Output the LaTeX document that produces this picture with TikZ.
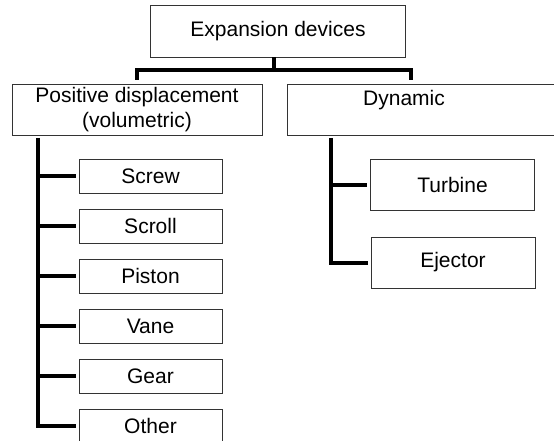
\documentclass[tikz,border=0pt]{standalone}
\usepackage{fontspec}
\setmainfont{Liberation Sans}

\begin{document}
\begin{tikzpicture}[x=1pt,y=-1pt]
        \tikzstyle{every node}=[draw=black!80,rectangle,line width=0.9pt,inner sep=2pt,font=\fontsize{21}{25}\selectfont]
        \tikzstyle{head}=[minimum width=255pt,minimum height=52pt]
        \tikzstyle{group}=[minimum height=51pt]
        \tikzstyle{kind}=[minimum width=143pt,minimum height=34pt]
        \tikzstyle{dynkind}=[minimum width=164pt,minimum height=51pt]
        \tikzstyle{trunk}=[line width=4pt]
        \tikzstyle{branch}=[line width=3.2pt,shorten >=3pt]
        \useasboundingbox (0,0) rectangle (554,441);
        \node[head] (devices) at (278,31) {Expansion devices};
        \node[group,minimum width=250pt,align=center] (positive) at (137,109.5) {Positive displacement\\(volumetric)};
        \node[group,minimum width=272pt,text depth=24pt] (dynamic) at (423,109.5) {Dynamic\hspace{38pt}\mbox{}};
        \foreach \name [count=\i] in {Screw,Scroll,Piston,Vane,Gear,Other}
            \node[kind] (\name) at (150.5,126+50*\i) {\name};
        \node[dynkind] (Turbine) at (452.5,185) {Turbine};
        \node[dynkind] (Ejector) at (453,262.5) {Ejector};
        % split under the top box
        \coordinate (fork) at (274,70);
        \coordinate (postop) at (137,80);
        \coordinate (dyntop) at (411,80);
        \draw[trunk] (devices.south -| fork) -- (fork);
        \draw[trunk] (postop) |- (fork) -| (dyntop);
        % positive displacement
        \coordinate (posbus) at (38,138);
        \draw[trunk] (posbus) |- ([xshift=-3pt]Other.west);
        \foreach \name in {Screw,Scroll,Piston,Vane,Gear}
            \draw[branch] (posbus |- \name.west) -- (\name.west);
        % dynamic
        \coordinate (dynbus) at (331,138);
        \draw[trunk] (dynbus) |- ([xshift=-3pt]Ejector.west);
        \draw[branch] (dynbus |- Turbine.west) -- (Turbine.west);
\end{tikzpicture}
\end{document}
